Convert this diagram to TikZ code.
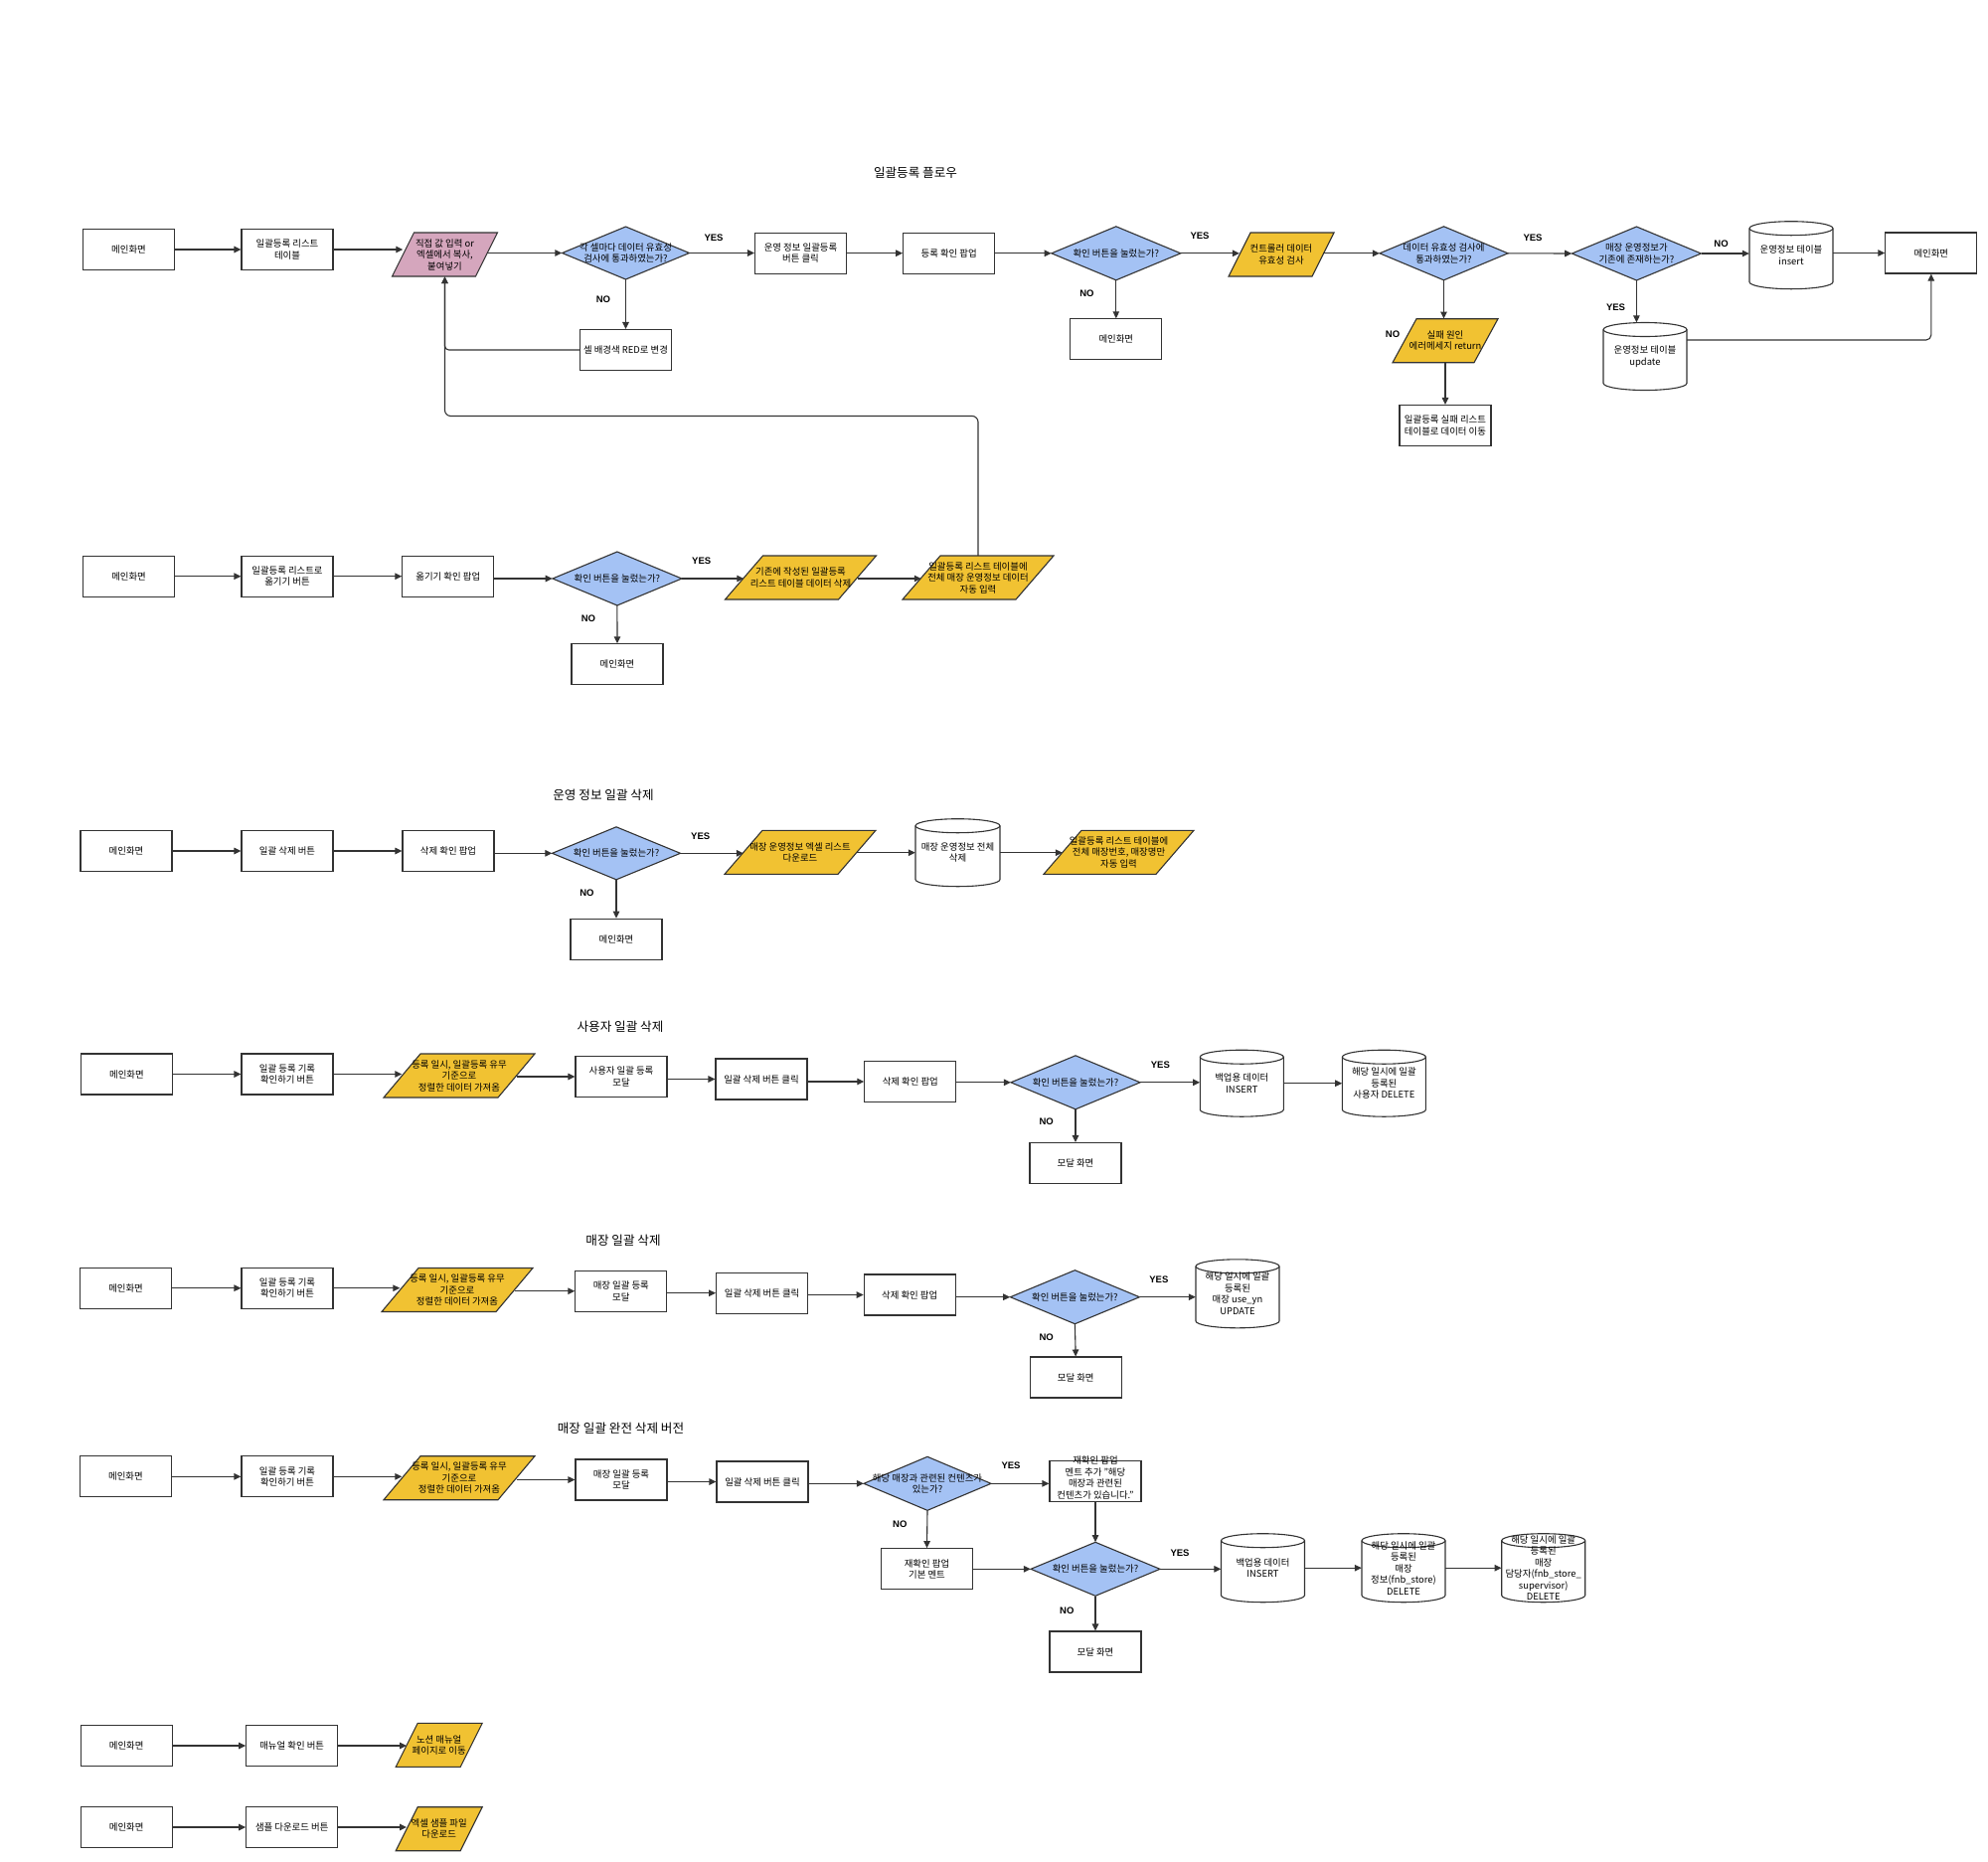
\documentclass[tikz,border=0pt]{standalone}
\usepackage{fontspec}
\setmainfont{Noto Sans CJK KR}
\newfontfamily\latf{Liberation Sans}
\usetikzlibrary{arrows.meta}
\definecolor{dblue}{HTML}{A4C2F4}
\definecolor{yel}{HTML}{F1C232}
\definecolor{pnk}{HTML}{D5A6BD}
\definecolor{linec}{HTML}{333333}
\tikzset{
  lnk/.style={draw=linec, line width=1.1pt},
  arr/.style={lnk, -{Triangle[length=7pt,width=6.5pt]}},
  txt/.style={font=\fontsize{9.4}{11.5}\selectfont, align=center, text=black},
  procbox/.style={txt, lnk, fill=white, rectangle, minimum width=92, minimum height=41, inner sep=1.5pt},
  yn/.style={font=\latf\bfseries\fontsize{9.5}{11}\selectfont, text=black, inner sep=0pt},
  ttl/.style={font=\fontsize{12.6}{14}\selectfont, text=black, inner sep=0pt},
}
% name, x, y, total width, slant, fill, text
\newcommand\parashape[7]{%
  \draw[lnk, fill=#6] ({#2-#4/2},{#3+22}) -- ({#2-#4/2+#5},{#3-22}) -- ({#2+#4/2},{#3-22}) -- ({#2+#4/2-#5},{#3+22}) -- cycle;
  \node[txt, name=#1, rectangle, minimum width={#4-#5}, minimum height=44, inner sep=0pt] at (#2,#3) {#7};
}
% name, x, y, width, height, text
\newcommand\decshape[6]{%
  \draw[lnk, fill=dblue] ({#2-#4/2},#3) -- (#2,{#3-#5/2}) -- ({#2+#4/2},#3) -- (#2,{#3+#5/2}) -- cycle;
  \node[txt, name=#1, rectangle, minimum width=#4, minimum height=#5, inner sep=0pt] at (#2,#3) {#6};
}
% name, x, y, width, height, text
\newcommand\dbshape[6]{%
  \draw[lnk, fill=white] ({#2-#4/2},{#3-#5/2+7}) -- ({#2-#4/2},{#3+#5/2-7})
     arc[start angle=180, end angle=360, x radius={(#4/2)*1pt}, y radius=7pt]
     -- ({#2+#4/2},{#3-#5/2+7})
     arc[start angle=0, end angle=180, x radius={(#4/2)*1pt}, y radius=7pt] -- cycle;
  \draw[lnk] ({#2-#4/2},{#3-#5/2+7}) arc[start angle=180, end angle=360, x radius={(#4/2)*1pt}, y radius=7pt];
  \node[txt, name=#1, rectangle, minimum width=#4, minimum height=#5, inner sep=0pt] at (#2,#3) {#6};
}
\begin{document}
\begin{tikzpicture}[x=1pt,y=-1pt]
\fill[white] (0,0) rectangle (2000,1872);
\useasboundingbox (0,0) rectangle (2000,1872);

% ---------- titles
\node[ttl] (t1) at (921,173.5) {일괄등록 플로우};
\node[ttl] (t2) at (607,800) {운영 정보 일괄 삭제};
\node[ttl] (t3) at (624,1032.5) {사용자 일괄 삭제};
\node[ttl] (t4) at (627,1248) {매장 일괄 삭제};
\node[ttl] (t5) at (624.5,1436.7) {매장 일괄 완전 삭제 버전};

% ---------- row 1
\node[procbox] (r1a) at (129.5,251) {메인화면};
\node[procbox] (r1b) at (289,251) {일괄등록 리스트\\테이블};
\parashape{r1c}{447.5}{256}{106}{22}{pnk}{직접 값 입력 or\\엑셀에서 복사,\\붙여넣기}
\decshape{r1d}{629.5}{254.5}{128}{53}{각 셀마다 데이터 유효성\\검사에 통과하였는가?}
\node[procbox] (r1e) at (629.5,352) {셀 배경색 RED로 변경};
\node[procbox] (r1f) at (805.5,254.7) {운영 정보 일괄등록\\버튼 클릭};
\node[procbox] (r1g) at (954.7,254.7) {등록 확인 팝업};
\decshape{r1h}{1122.8}{254.8}{130}{54}{확인 버튼을 눌렀는가?}
\node[procbox] (r1i) at (1122.8,341.3) {메인화면};
\parashape{r1j}{1289}{256}{106}{22}{yel}{컨트롤러 데이터\\유효성 검사}
\decshape{r1k}{1452.5}{254.8}{129}{54}{데이터 유효성 검사에\\통과하였는가?}
\parashape{r1l}{1454}{342.7}{106}{24}{yel}{실패 원인\\에러메세지 return}
\node[procbox] (r1m) at (1454,428) {일괄등록 실패 리스트\\테이블로 데이터 이동};
\decshape{r1n}{1646.4}{255}{130}{54}{매장 운영정보가\\기존에 존재하는가?}
\dbshape{r1o}{1802}{256.7}{84}{68}{운영정보 테이블\\insert}
\dbshape{r1p}{1655}{358.5}{84}{68}{운영정보 테이블\\update}
\node[procbox] (r1q) at (1942.8,254.5) {메인화면};

\draw[arr] (r1a.east |- r1b) -- (r1b.west);
\draw[arr] (r1b.east) -- (r1c.west |- r1b);
\draw[arr] (r1c.east |- r1d) -- (r1d.west);
\draw[arr] (r1d.south) -- (r1e.north);
\draw[arr, rounded corners=4pt] (r1e.west) -| (r1c.south);
\draw[arr] (r1d.east) -- (r1f.west |- r1d);
\draw[arr] (r1f.east) -- (r1g.west);
\draw[arr] (r1g.east |- r1h) -- (r1h.west);
\draw[arr] (r1h.south) -- (r1i.north);
\draw[arr] (r1h.east) -- (r1j.west |- r1h);
\draw[arr] (r1j.east |- r1k) -- (r1k.west);
\draw[arr] (r1k.south) -- (r1k.south |- r1l.north);
\draw[arr] (r1l.south) -- (r1m.north);
\draw[arr] (r1k.east) -- (r1n.west);
\draw[arr] (r1n.east) -- (r1o.west |- r1n);
\draw[arr] (r1o.east |- r1q) -- (r1q.west);
\draw[arr] (r1n.south) -- (r1n.south |- r1p.north);
\coordinate (c342) at (0,342);
\draw[arr, rounded corners=5pt] (r1p.east |- c342) -| (r1q.south);

\node[yn] (y1) at (718,239.5) {YES};
\node[yn] (n1) at (607,301) {NO};
\node[yn] (y2) at (1207,237.3) {YES};
\node[yn] (n2) at (1093.5,295) {NO};
\node[yn] (y3) at (1542,239) {YES};
\node[yn] (n3) at (1401,336.7) {NO};
\node[yn] (n4) at (1731.5,245) {NO};
\node[yn] (y4) at (1625.5,309) {YES};

% ---------- row 2
\node[procbox] (r2a) at (129.6,579.7) {메인화면};
\node[procbox] (r2b) at (289,579.7) {일괄등록 리스트로\\옮기기 버튼};
\node[procbox] (r2c) at (450.8,579.7) {옮기기 확인 팝업};
\decshape{r2d}{620.9}{582}{130}{54}{확인 버튼을 눌렀는가?}
\node[procbox] (r2e) at (621,668.3) {메인화면};
\parashape{r2f}{805.5}{581}{152}{38}{yel}{기존에 작성된 일괄등록\\리스트 테이블 데이터 삭제}
\parashape{r2g}{984}{581}{152}{38}{yel}{일괄등록 리스트 테이블에\\전체 매장 운영정보 데이터\\자동 입력}

\draw[arr] (r2a.east) -- (r2b.west);
\draw[arr] (r2b.east) -- (r2c.west);
\draw[arr] (r2c.east |- r2d) -- (r2d.west);
\draw[arr] (r2d.south) -- (r2e.north);
\draw[arr] (r2d.east) -- (r2f.west |- r2d);
\draw[arr] (r2f.east |- r2d) -- (r2g.west |- r2d);
\coordinate (loopy) at (0,418.5);
\draw[arr, rounded corners=6pt] (r2g.north) -- (r2g.north |- loopy) -- (r1c.south |- loopy) -- (r1c.south);

\node[yn] (y5) at (705.7,564) {YES};
\node[yn] (n5) at (592,622.5) {NO};

% ---------- row 3
\node[procbox] (r3a) at (127,856) {메인화면};
\node[procbox] (r3b) at (289,856) {일괄 삭제 버튼};
\node[procbox] (r3c) at (451,856) {삭제 확인 팝업};
\decshape{r3d}{620}{858.3}{129}{53}{확인 버튼을 눌렀는가?}
\node[procbox] (r3e) at (620,944.7) {메인화면};
\parashape{r3f}{805}{857.3}{152}{38}{yel}{매장 운영정보 엑셀 리스트\\다운로드}
\dbshape{r3g}{963.5}{857.7}{85}{68}{매장 운영정보 전체\\삭제}
\parashape{r3h}{1125.5}{857.3}{151}{38}{yel}{일괄등록 리스트 테이블에\\전체 매장번호, 매장명만\\자동 입력}

\draw[arr] (r3a.east) -- (r3b.west);
\draw[arr] (r3b.east) -- (r3c.west);
\draw[arr] (r3c.east |- r3d) -- (r3d.west);
\draw[arr] (r3d.south) -- (r3e.north);
\draw[arr] (r3d.east) -- (r3f.west |- r3d);
\draw[arr] (r3f.east |- r3g) -- (r3g.west);
\draw[arr] (r3g.east) -- (r3h.west |- r3g);

\node[yn] (y6) at (704.7,841) {YES};
\node[yn] (n6) at (590.5,898.3) {NO};

% ---------- row 4
\node[procbox] (r4a) at (127.4,1080.5) {메인화면};
\node[procbox] (r4b) at (289,1080.5) {일괄 등록 기록\\확인하기 버튼};
\parashape{r4c}{462}{1082}{152}{37}{yel}{등록 일시, 일괄등록 유무\\기준으로\\정렬한 데이터 가져옴}
\node[procbox] (r4d) at (625,1083) {사용자 일괄 등록\\모달};
\node[procbox] (r4e) at (766,1085.5) {일괄 삭제 버튼 클릭};
\node[procbox] (r4f) at (915.8,1088) {삭제 확인 팝업};
\decshape{r4g}{1082}{1088.8}{130}{54}{확인 버튼을 눌렀는가?}
\node[procbox] (r4h) at (1082,1170) {모달 화면};
\dbshape{r4i}{1249.3}{1089.7}{84}{67}{백업용 데이터\\INSERT}
\dbshape{r4j}{1392.4}{1089.7}{84}{67}{해당 일시에 일괄\\등록된\\사용자 DELETE}

\draw[arr] (r4a.east) -- (r4b.west);
\draw[arr] (r4b.east) -- (r4c.west |- r4b);
\draw[arr] (r4c.east |- r4d) -- (r4d.west);
\draw[arr] (r4d.east |- r4e) -- (r4e.west);
\draw[arr] (r4e.east |- r4f) -- (r4f.west);
\draw[arr] (r4f.east |- r4g) -- (r4g.west);
\draw[arr] (r4g.south) -- (r4h.north);
\draw[arr] (r4g.east) -- (r4i.west |- r4g);
\draw[arr] (r4i.east) -- (r4j.west);

\node[yn] (y7) at (1167.4,1071.7) {YES};
\node[yn] (n7) at (1052.7,1128.7) {NO};

% ---------- row 5
\node[procbox] (r5a) at (126.6,1295.7) {메인화면};
\node[procbox] (r5b) at (289,1295.7) {일괄 등록 기록\\확인하기 버튼};
\parashape{r5c}{460}{1297.5}{152}{37}{yel}{등록 일시, 일괄등록 유무\\기준으로\\정렬한 데이터 가져옴}
\node[procbox] (r5d) at (624.8,1298.7) {매장 일괄 등록\\모달};
\node[procbox] (r5e) at (766.6,1300.7) {일괄 삭제 버튼 클릭};
\node[procbox] (r5f) at (915.2,1302.5) {삭제 확인 팝업};
\decshape{r5g}{1081.4}{1304.7}{130}{54}{확인 버튼을 눌렀는가?}
\node[procbox] (r5h) at (1082.2,1385.5) {모달 화면};
\dbshape{r5i}{1245}{1301.3}{84}{69}{해당 일시에 일괄\\등록된\\매장 use\_yn\\UPDATE}

\draw[arr] (r5a.east) -- (r5b.west);
\draw[arr] (r5b.east) -- (r5c.west |- r5b);
\draw[arr] (r5c.east |- r5d) -- (r5d.west);
\draw[arr] (r5d.east |- r5e) -- (r5e.west);
\draw[arr] (r5e.east |- r5f) -- (r5f.west);
\draw[arr] (r5f.east |- r5g) -- (r5g.west);
\draw[arr] (r5g.south) -- (r5h.north);
\draw[arr] (r5g.east) -- (r5i.west |- r5g);

\node[yn] (y8) at (1165.9,1287.3) {YES};
\node[yn] (n8) at (1052.7,1345) {NO};

% ---------- row 6
\node[procbox] (r6a) at (126.4,1485.3) {메인화면};
\node[procbox] (r6b) at (289,1485.3) {일괄 등록 기록\\확인하기 버튼};
\parashape{r6c}{462}{1486.7}{152}{37}{yel}{등록 일시, 일괄등록 유무\\기준으로\\정렬한 데이터 가져옴}
\node[procbox] (r6d) at (625,1488.5) {매장 일괄 등록\\모달};
\node[procbox] (r6e) at (767,1490.5) {일괄 삭제 버튼 클릭};
\decshape{r6f}{933}{1492.3}{128}{54}{해당 매장과 관련된 컨텐츠가\\있는가?}
\node[procbox] (r6g) at (1102,1490) {\smash{\begin{tabular}{@{}c@{}}재확인 팝업\\멘트 추가 "해당\\매장과 관련된\\컨텐츠가 있습니다."\end{tabular}}};
\node[procbox] (r6h) at (932.5,1578.2) {재확인 팝업\\기본 멘트};
\decshape{r6i}{1102}{1578.3}{130}{54}{확인 버튼을 눌렀는가?}
\node[procbox] (r6j) at (1102,1661.5) {모달 화면};
\dbshape{r6k}{1270.5}{1577.2}{84}{69}{백업용 데이터\\INSERT}
\dbshape{r6l}{1412}{1577.2}{84}{69}{해당 일시에 일괄\\등록된\\매장\\정보(fnb\_store)\\DELETE}
\dbshape{r6m}{1552.7}{1577.2}{84}{69}{해당 일시에 일괄\\등록된\\매장\\담당자(fnb\_store\_\\supervisor)\\DELETE}

\draw[arr] (r6a.east) -- (r6b.west);
\draw[arr] (r6b.east) -- (r6c.west |- r6b);
\draw[arr] (r6c.east |- r6d) -- (r6d.west);
\draw[arr] (r6d.east |- r6e) -- (r6e.west);
\draw[arr] (r6e.east |- r6f) -- (r6f.west);
\draw[arr] (r6f.east) -- (r6g.west |- r6f);
\draw[arr] (r6f.south) -- (r6h.north);
\draw[arr] (r6g.south) -- (r6i.north);
\draw[arr] (r6h.east |- r6i) -- (r6i.west);
\draw[arr] (r6i.south) -- (r6j.north);
\draw[arr] (r6i.east) -- (r6k.west |- r6i);
\draw[arr] (r6k.east) -- (r6l.west);
\draw[arr] (r6l.east) -- (r6m.west);

\node[yn] (y9) at (1017,1474.3) {YES};
\node[yn] (n9) at (905.3,1533.3) {NO};
\node[yn] (y10) at (1187,1562.7) {YES};
\node[yn] (n10) at (1073.3,1620) {NO};

% ---------- rows 7, 8
\node[procbox] (r7a) at (127.2,1756) {메인화면};
\node[procbox] (r7b) at (293.7,1756) {매뉴얼 확인 버튼};
\parashape{r7c}{441.7}{1755.3}{87}{22}{yel}{노션 매뉴얼\\페이지로 이동}
\draw[arr] (r7a.east) -- (r7b.west);
\draw[arr] (r7b.east) -- (r7c.west |- r7b);

\node[procbox] (r8a) at (127.2,1838) {메인화면};
\node[procbox] (r8b) at (293.7,1838) {샘플 다운로드 버튼};
\parashape{r8c}{441.7}{1839.7}{87}{22}{yel}{엑셀 샘플 파일\\다운로드}
\draw[arr] (r8a.east) -- (r8b.west);
\draw[arr] (r8b.east) -- (r8c.west |- r8b);
\end{tikzpicture}
\end{document}
